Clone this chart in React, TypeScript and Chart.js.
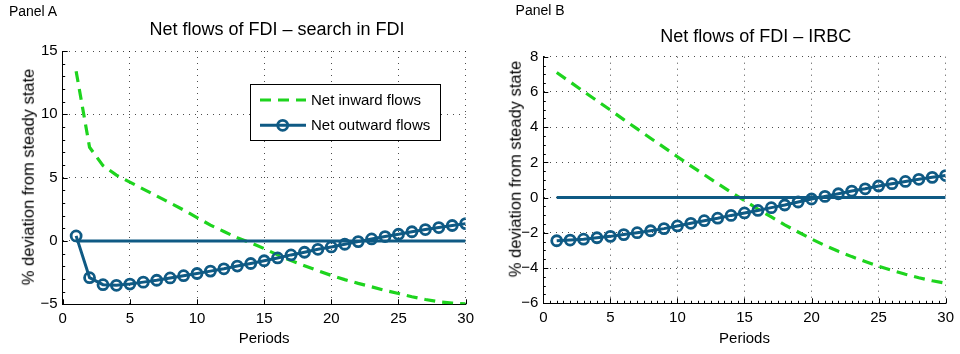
import React, { useEffect, useRef } from "react";
import { Chart, registerables } from "chart.js";

Chart.register(...registerables);

// ---------------- data ----------------
const periods = [1, 2, 3, 4, 5, 6, 7, 8, 9, 10, 11, 12, 13, 14, 15, 16, 17, 18, 19, 20, 21, 22, 23, 24, 25, 26, 27, 28, 29, 30];

const inwardA = [13.4, 7.4, 5.95, 5.2, 4.65, 4.1, 3.55, 3.0, 2.45, 1.85, 1.25, 0.75, 0.25, -0.15, -0.6, -1.1, -1.55, -1.95, -2.35, -2.72, -3.05, -3.35, -3.62, -3.9, -4.15, -4.4, -4.62, -4.8, -4.9, -4.97];
const outwardA = [0.4, -2.9, -3.45, -3.5, -3.4, -3.25, -3.1, -2.92, -2.74, -2.57, -2.38, -2.2, -1.98, -1.78, -1.56, -1.34, -1.1, -0.89, -0.66, -0.47, -0.26, -0.05, 0.16, 0.35, 0.53, 0.73, 0.9, 1.06, 1.22, 1.37];

const inwardB = [7.1, 6.57, 6.03, 5.5, 4.97, 4.43, 3.9, 3.37, 2.85, 2.32, 1.8, 1.3, 0.8, 0.3, -0.17, -0.65, -1.1, -1.55, -1.95, -2.35, -2.72, -3.05, -3.35, -3.63, -3.9, -4.13, -4.35, -4.55, -4.72, -4.86];
const outwardB = [-2.45, -2.41, -2.36, -2.28, -2.2, -2.1, -1.99, -1.88, -1.76, -1.61, -1.46, -1.31, -1.17, -1.01, -0.87, -0.73, -0.57, -0.42, -0.25, -0.08, 0.07, 0.22, 0.37, 0.5, 0.66, 0.79, 0.92, 1.04, 1.15, 1.25];

const zeroLineX = [1, 30];
const zeroLineY = [0, 0];

const xTicks = [0, 5, 10, 15, 20, 25, 30];
const yTicksA = [-5, 0, 5, 10, 15];
const yTicksB = [-6, -4, -2, 0, 2, 4, 6, 8];

const legendLabels = ["Net inward flows", "Net outward flows"];
const panelLabels = ["Panel A", "Panel B"];
const panelTitles = ["Net flows of FDI \u2013 search in FDI", "Net flows of FDI \u2013 IRBC"];
const xAxisTitle = "Periods";
const yAxisTitle = "% deviation from steady state";

// ---------------- style ----------------
const FONT = "'Liberation Sans', Arial, Helvetica, sans-serif";
const GREEN = "#1ed41e";
const BLUE = "#0f5a84";
const GRID = "rgba(0,0,0,0.7)";
const DASH = [11, 7];
const W = 480;
const H = 354;

type Spec = {
  offsetX: number;
  inward: number[];
  outward: number[];
  yTicks: number[];
  yMinorStep: number;
  xMinorStep: number;
  area: { left: number; top: number; right: number; bottom: number };
  legend: boolean;
  label: string;
  labelPos: { left: number; top: number };
  title: string;
  titlePos: { cx: number; top: number };
  yLabelPos: { cx: number; cy: number };
};

const specs: Spec[] = [
  {
    offsetX: 0,
    inward: inwardA,
    outward: outwardA,
    yTicks: yTicksA,
    yMinorStep: 1,
    xMinorStep: 0,
    area: { left: 62.7, top: 51, right: 470, bottom: 304.3 },
    legend: true,
    label: panelLabels[0],
    labelPos: { left: 8.9, top: 4.2 },
    title: panelTitles[0],
    titlePos: { cx: 277, top: 19.8 },
    yLabelPos: { cx: 28.3, cy: 176.7 },
  },
  {
    offsetX: 480,
    inward: inwardB,
    outward: outwardB,
    yTicks: yTicksB,
    yMinorStep: 0.5,
    xMinorStep: 0.5,
    area: { left: 63.3, top: 56.7, right: 470, bottom: 303.3 },
    legend: false,
    label: panelLabels[1],
    labelPos: { left: 515.6, top: 3.2 },
    title: panelTitles[1],
    titlePos: { cx: 755.8, top: 26.5 },
    yLabelPos: { cx: 515.3, cy: 168.7 },
  },
];

const fmt = (v: number) => String(v).replace("-", "\u2212");

const ticksPlugin = {
  id: "inwardTicks",
  beforeDatasetsDraw(chart: any, _args: any, opts: any) {
    const spec: Spec = opts.spec;
    if (!spec) return;
    const { ctx, chartArea: a, scales } = chart;
    const x = scales.x;
    const y = scales.y;
    ctx.save();
    ctx.strokeStyle = "#000";
    ctx.lineWidth = 1;
    ctx.beginPath();
    const xMin = xTicks[0];
    const xMax = xTicks[xTicks.length - 1];
    const yMin = spec.yTicks[0];
    const yMax = spec.yTicks[spec.yTicks.length - 1];
    xTicks.forEach((v) => {
      const px = Math.round(x.getPixelForValue(v)) + 0.5;
      ctx.moveTo(px, a.bottom);
      ctx.lineTo(px, a.bottom - 5);
    });
    if (spec.xMinorStep > 0) {
      for (let v = xMin; v <= xMax + 1e-9; v += spec.xMinorStep) {
        const px = Math.round(x.getPixelForValue(v)) + 0.5;
        ctx.moveTo(px, a.bottom);
        ctx.lineTo(px, a.bottom - 2.5);
      }
    }
    spec.yTicks.forEach((v) => {
      const py = Math.round(y.getPixelForValue(v)) + 0.5;
      ctx.moveTo(a.left, py);
      ctx.lineTo(a.left + 5, py);
    });
    if (spec.yMinorStep > 0) {
      for (let v = yMin; v <= yMax + 1e-9; v += spec.yMinorStep) {
        const py = Math.round(y.getPixelForValue(v)) + 0.5;
        ctx.moveTo(a.left, py);
        ctx.lineTo(a.left + 2.5, py);
      }
    }
    ctx.stroke();
    ctx.restore();
  },
};

const legendPlugin = {
  id: "boxLegend",
  afterDatasetsDraw(chart: any, _args: any, opts: any) {
    if (!opts.show) return;
    const ctx = chart.ctx;
    const bx = 250.5, by = 84.5, bw = 190, bh = 56;
    ctx.save();
    ctx.fillStyle = "#fff";
    ctx.fillRect(bx, by, bw, bh);
    ctx.strokeStyle = "#000";
    ctx.lineWidth = 1;
    ctx.strokeRect(bx, by, bw, bh);
    // inward sample
    ctx.strokeStyle = GREEN;
    ctx.lineWidth = 3.2;
    ctx.setLineDash(DASH);
    ctx.beginPath();
    ctx.moveTo(260, 100);
    ctx.lineTo(306, 100);
    ctx.stroke();
    ctx.setLineDash([]);
    // outward sample
    ctx.strokeStyle = BLUE;
    ctx.lineWidth = 3;
    ctx.beginPath();
    ctx.moveTo(260, 125.3);
    ctx.lineTo(306, 125.3);
    ctx.stroke();
    ctx.lineWidth = 2.8;
    ctx.beginPath();
    ctx.arc(282.7, 125.3, 5, 0, Math.PI * 2);
    ctx.stroke();
    ctx.fillStyle = "#000";
    ctx.font = `15px ${FONT}`;
    ctx.textBaseline = "middle";
    ctx.textAlign = "left";
    ctx.fillText(legendLabels[0], 311, 100.5);
    ctx.fillText(legendLabels[1], 311, 125.8);
    ctx.restore();
  },
};

function Panel({ spec }: { spec: Spec }) {
  const ref = useRef<HTMLCanvasElement | null>(null);
  useEffect(() => {
    if (!ref.current) return;
    const a = spec.area;
    const chart = new Chart(ref.current, {
      type: "line",
      data: {
        datasets: [
          {
            label: legendLabels[1],
            data: periods.map((p, i) => ({ x: p, y: spec.outward[i] })),
            borderColor: BLUE,
            borderWidth: 3,
            pointRadius: 5,
            pointBorderWidth: 2.8,
            pointBorderColor: BLUE,
            pointBackgroundColor: "rgba(0,0,0,0)",
            pointStyle: "circle",
            tension: 0,
          },
          {
            label: "zero",
            data: zeroLineX.map((x, i) => ({ x, y: zeroLineY[i] })),
            borderColor: BLUE,
            borderWidth: 3,
            pointRadius: 0,
            tension: 0,
          },
          {
            label: legendLabels[0],
            data: periods.map((p, i) => ({ x: p, y: spec.inward[i] })),
            borderColor: GREEN,
            borderWidth: 3.2,
            borderDash: DASH,
            pointRadius: 0,
            tension: 0,
          },
        ],
      },
      options: {
        animation: false,
        responsive: false,
        events: [],
        layout: { padding: { left: 0, top: a.top, right: W - a.right, bottom: 0 } },
        plugins: {
          legend: { display: false },
          tooltip: { enabled: false },
          title: { display: false },
          inwardTicks: { spec },
          boxLegend: { show: spec.legend },
        } as any,
        scales: {
          x: {
            type: "linear",
            min: xTicks[0],
            max: xTicks[xTicks.length - 1],
            afterBuildTicks: (s: any) => {
              s.ticks = xTicks.map((v) => ({ value: v }));
            },
            afterFit: (s: any) => {
              s.height = H - a.bottom;
            },
            grid: { color: GRID, lineWidth: 1, drawTicks: false },
            border: { display: true, color: "#000", width: 1, dash: [1, 5] },
            ticks: {
              autoSkip: false,
              maxRotation: 0,
              padding: 6,
              color: "#000",
              font: { family: FONT, size: 15 },
              callback: (v: any) => fmt(v),
            },
            title: {
              display: true,
              text: xAxisTitle,
              color: "#000",
              font: { family: FONT, size: 15 },
              padding: { top: 0, bottom: 6 },
            },
          },
          y: {
            type: "linear",
            min: spec.yTicks[0],
            max: spec.yTicks[spec.yTicks.length - 1],
            afterBuildTicks: (s: any) => {
              s.ticks = spec.yTicks.map((v) => ({ value: v }));
            },
            afterFit: (s: any) => {
              s.width = a.left;
            },
            grid: { color: GRID, lineWidth: 1, drawTicks: false },
            border: { display: true, color: "#000", width: 1, dash: [1, 5] },
            ticks: {
              autoSkip: false,
              padding: 5,
              color: "#000",
              font: { family: FONT, size: 15 },
              callback: (v: any) => fmt(v),
            },
          },
        } as any,
      },
      plugins: [ticksPlugin, legendPlugin],
    });
    return () => chart.destroy();
  }, [spec]);

  return (
    <>
      <div style={{ position: "absolute", left: spec.offsetX, top: 0, width: W, height: H }}>
        <canvas ref={ref} width={W} height={H} style={{ width: W, height: H, display: "block" }} />
      </div>
      <div
        style={{
          position: "absolute",
          left: spec.labelPos.left,
          top: spec.labelPos.top,
          fontFamily: FONT,
          fontSize: 14,
          lineHeight: 1,
          whiteSpace: "nowrap",
          color: "#000",
        }}
      >
        {spec.label}
      </div>
      <div
        style={{
          position: "absolute",
          left: spec.titlePos.cx,
          top: spec.titlePos.top,
          transform: "translateX(-50%)",
          fontFamily: FONT,
          fontSize: 18,
          lineHeight: 1,
          whiteSpace: "nowrap",
          color: "#000",
        }}
      >
        {spec.title}
      </div>
      <div
        style={{
          position: "absolute",
          left: spec.yLabelPos.cx,
          top: spec.yLabelPos.cy,
          transform: "translate(-50%, -50%) rotate(-90deg)",
          fontFamily: FONT,
          fontSize: 16.5,
          lineHeight: 1,
          whiteSpace: "nowrap",
          color: "#000",
        }}
      >
        {yAxisTitle}
      </div>
    </>
  );
}

export default function App() {
  return (
    <div
      style={{
        position: "fixed",
        left: 0,
        top: 0,
        width: 960,
        height: 354,
        background: "#fff",
        overflow: "hidden",
      }}
    >
      {specs.map((s, i) => (
        <Panel key={i} spec={s} />
      ))}
    </div>
  );
}
